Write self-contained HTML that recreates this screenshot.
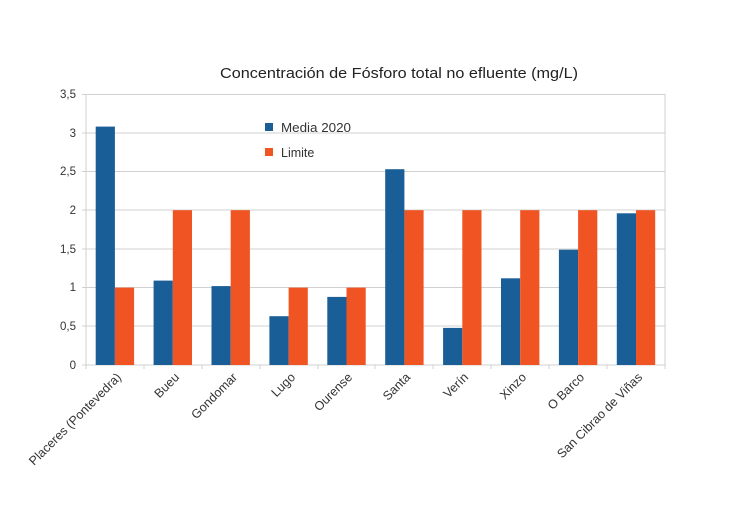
<!DOCTYPE html>
<html><head><style>body{margin:0;background:#fff}</style></head><body>
<svg width="740" height="500" xmlns="http://www.w3.org/2000/svg" font-family="Liberation Sans, sans-serif">
<rect width="740" height="500" fill="#fff"/>
<text x="220" y="78" font-size="14.5" textLength="358" lengthAdjust="spacingAndGlyphs" fill="#222">Concentración de Fósforo total no efluente (mg/L)</text>
<g stroke="#d0d0d0" stroke-width="1">
<line x1="86" y1="94.5" x2="665" y2="94.5"/>
<line x1="86" y1="133" x2="665" y2="133"/>
<line x1="86" y1="171.5" x2="665" y2="171.5"/>
<line x1="86" y1="210" x2="665" y2="210"/>
<line x1="86" y1="249" x2="665" y2="249"/>
<line x1="86" y1="287.5" x2="665" y2="287.5"/>
<line x1="86" y1="326" x2="665" y2="326"/>
<line x1="665" y1="94" x2="665" y2="365"/>
<line x1="86" y1="94" x2="86" y2="369"/>
<line x1="82" y1="365" x2="665" y2="365"/>
</g>
<g stroke="#d0d0d0"><line x1="82" y1="94.5" x2="86" y2="94.5"/><line x1="82" y1="133" x2="86" y2="133"/><line x1="82" y1="171.5" x2="86" y2="171.5"/><line x1="82" y1="210" x2="86" y2="210"/><line x1="82" y1="249" x2="86" y2="249"/><line x1="82" y1="287.5" x2="86" y2="287.5"/><line x1="82" y1="326" x2="86" y2="326"/>
<line x1="144" y1="365" x2="144" y2="369"/><line x1="202" y1="365" x2="202" y2="369"/><line x1="260" y1="365" x2="260" y2="369"/><line x1="318" y1="365" x2="318" y2="369"/><line x1="375" y1="365" x2="375" y2="369"/><line x1="433" y1="365" x2="433" y2="369"/><line x1="491" y1="365" x2="491" y2="369"/><line x1="549" y1="365" x2="549" y2="369"/><line x1="607" y1="365" x2="607" y2="369"/><line x1="665" y1="365" x2="665" y2="369"/></g>
<g font-size="11.5" fill="#333" text-anchor="end">
<text x="76" y="98">3,5</text><text x="76" y="137">3</text><text x="76" y="175">2,5</text><text x="76" y="214">2</text><text x="76" y="253">1,5</text><text x="76" y="291">1</text><text x="76" y="330">0,5</text><text x="76" y="369">0</text>
</g>
<g fill="#1a5e98">
<rect x="95.7" y="126.6" width="19.2" height="238.4"/>
<rect x="153.6" y="280.6" width="19.2" height="84.4"/>
<rect x="211.5" y="286.1" width="19.2" height="78.9"/>
<rect x="269.4" y="316.2" width="19.2" height="48.8"/>
<rect x="327.3" y="296.9" width="19.2" height="68.1"/>
<rect x="385.2" y="169.2" width="19.2" height="195.8"/>
<rect x="443.1" y="327.9" width="19.2" height="37.1"/>
<rect x="501" y="278.3" width="19.2" height="86.7"/>
<rect x="558.9" y="249.7" width="19.2" height="115.3"/>
<rect x="616.8" y="213.3" width="19.2" height="151.7"/>
</g>
<g fill="#f05423">
<rect x="114.9" y="287.6" width="19.2" height="77.4"/>
<rect x="172.8" y="210.2" width="19.2" height="154.8"/>
<rect x="230.7" y="210.2" width="19.2" height="154.8"/>
<rect x="288.6" y="287.6" width="19.2" height="77.4"/>
<rect x="346.5" y="287.6" width="19.2" height="77.4"/>
<rect x="404.4" y="210.2" width="19.2" height="154.8"/>
<rect x="462.3" y="210.2" width="19.2" height="154.8"/>
<rect x="520.2" y="210.2" width="19.2" height="154.8"/>
<rect x="578.1" y="210.2" width="19.2" height="154.8"/>
<rect x="636" y="210.2" width="19.2" height="154.8"/>
</g>
<rect x="265" y="123" width="8" height="8" fill="#1a5e98"/>
<text x="281" y="132" font-size="12.5" textLength="70" lengthAdjust="spacingAndGlyphs" fill="#333">Media 2020</text>
<rect x="265" y="148" width="8" height="8" fill="#f05423"/>
<text x="281" y="157" font-size="12.5" fill="#333">Limite</text>
<g font-size="12.5" fill="#333" text-anchor="end">
<text transform="translate(122,378) rotate(-45)">Placeres (Pontevedra)</text>
<text transform="translate(180,378) rotate(-45)">Bueu</text>
<text transform="translate(238,378) rotate(-45)">Gondomar</text>
<text transform="translate(296,378) rotate(-45)">Lugo</text>
<text transform="translate(353,378) rotate(-45)">Ourense</text>
<text transform="translate(411,378) rotate(-45)">Santa</text>
<text transform="translate(469,378) rotate(-45)">Verín</text>
<text transform="translate(527,378) rotate(-45)">Xinzo</text>
<text transform="translate(585,378) rotate(-45)">O Barco</text>
<text transform="translate(643,378) rotate(-45)">San Cibrao de Viñas</text>
</g>
</svg>
</body></html>
